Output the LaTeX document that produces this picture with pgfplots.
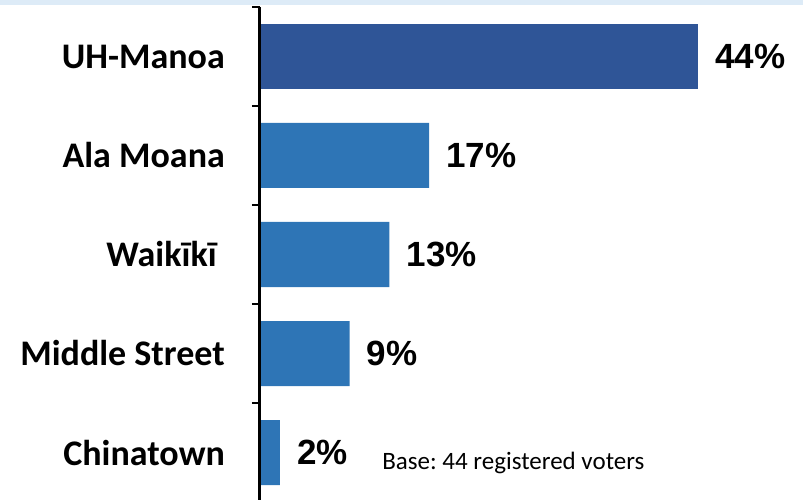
\documentclass[border=0pt]{standalone}
\usepackage{fontspec}
\setmainfont{Carlito}
\newfontfamily\valfont{Liberation Sans}
\usepackage{pgfplots}
\pgfplotsset{compat=1.18}
\definecolor{darkbar}{HTML}{2F5597}
\definecolor{midbar}{HTML}{2E75B6}
\definecolor{band}{HTML}{DDEBF7}

\begin{document}
\frenchspacing
\begin{tikzpicture}
\begin{axis}[
    at={(0pt,0pt)}, anchor=south west,
    x=9.955pt, y=99pt, y dir=reverse,
    xmin=0, xmax=54.5, ymin=-0.5, ymax=4.5,
    axis on top,
    axis x line=none, axis y line=left,
    y axis line style={-, line width=3pt, black},
    ytick={0,...,4},
    yticklabels={UH-Manoa, Ala Moana, Waikīkī\kern8pt, Middle Street, Chinatown},
    minor ytick={-0.5,0.5,1.5,2.5,3.5},
    major tick length=0pt, minor tick length=8pt, tick align=outside,
    every minor tick/.append style={line width=2.4pt, black},
    yticklabel style={anchor=east, inner sep=0pt, xshift=-35pt,
      font=\fontsize{36}{40}\selectfont\bfseries},
    xbar, bar width=65pt, bar shift=0pt,
    clip=false,
    point meta=x,
    nodes near coords={\valfont\bfseries\pgfmathprintnumber[assume math mode=true]{\pgfplotspointmeta}\%},
    every node near coord/.append style={anchor=west, inner sep=0pt, xshift=17pt,
      font=\fontsize{35}{38}\selectfont, black},
  ]
  \addplot[fill=darkbar, draw=none] coordinates {(44,0)};
  \addplot[fill=midbar, draw=none] coordinates {(17,1) (13,2) (9,3) (2,4)};
  \node[anchor=base west, inner sep=0pt, font=\fontsize{25}{29}\selectfont]
    at (axis cs:12.27,4) [yshift=-16.5pt] {Base: 44 registered voters};
\end{axis}
\fill[band] (-260pt,497pt) rectangle (543pt,502pt);
\pgfresetboundingbox
\path[use as bounding box] (-260pt,2pt) rectangle (543pt,502pt);
\end{tikzpicture}
\end{document}
